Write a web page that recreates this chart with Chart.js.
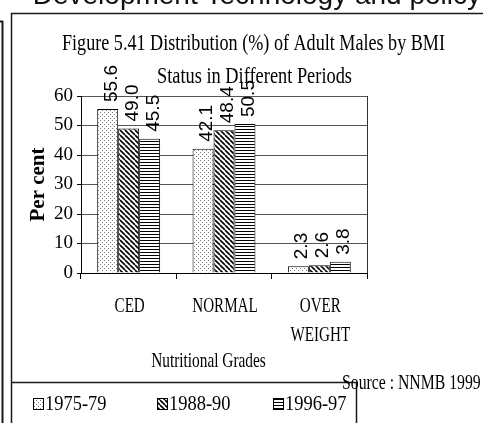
<!DOCTYPE html>
<html>
<head>
<meta charset="utf-8">
<script src="https://cdn.jsdelivr.net/npm/chart.js@4.4.0/dist/chart.umd.min.js"></script>
<style>
    html, body { margin: 0; padding: 0; background: #fff; }
    canvas { display: block; }
</style>
</head>
<body>
<canvas id="bmiChart" width="483" height="423"></canvas>
<script>
// data
const categories = [["CED"], ["NORMAL"], ["OVER", "WEIGHT"]];
const periods = ["1975-79", "1988-90", "1996-97"];
const values1975 = [55.6, 42.1, 2.3];
const values1988 = [49.0, 48.4, 2.6];
const values1996 = [45.5, 50.5, 3.8];
const yTicks = [0, 10, 20, 30, 40, 50, 60];

const titleLines = ["Figure 5.41 Distribution (%) of Adult Males by BMI", "Status in Different Periods"];
const yAxisTitle = "Per cent";
const xAxisTitle = "Nutritional Grades";
const sourceNote = "Source : NNMB 1999";
const pageHeading = "Development Technology and policy";

const SERIF = "'Liberation Serif', 'Times New Roman', serif";
const SANS = "'Liberation Sans', Arial, sans-serif";

const canvas = document.getElementById("bmiChart");
const ctx = canvas.getContext("2d");

function makePattern(kind) {
    const c = document.createElement("canvas");
    const p = c.getContext("2d");
    if (kind === "dots") {
        c.width = 4; c.height = 4;
        p.fillStyle = "#fff"; p.fillRect(0, 0, 4, 4);
        p.fillStyle = "#7a7a7a";
        p.fillRect(0, 0, 1, 1);
        p.fillRect(2, 2, 1, 1);
    } else if (kind === "diag") {
        c.width = 5; c.height = 5;
        p.fillStyle = "#fff"; p.fillRect(0, 0, 5, 5);
        p.strokeStyle = "#000"; p.lineWidth = 1.6;
        p.beginPath();
        for (let k = -1; k <= 1; k++) {
            p.moveTo(k * 5, 0);
            p.lineTo(k * 5 + 5, 5);
        }
        p.stroke();
    } else {
        c.width = 4; c.height = 3;
        p.fillStyle = "#fff"; p.fillRect(0, 0, 4, 3);
        p.fillStyle = "#000"; p.fillRect(0, 0, 4, 1);
    }
    return ctx.createPattern(c, "repeat");
}

const fills = [makePattern("dots"), makePattern("diag"), makePattern("lines")];

// squeezed text, the scan prints the serif labels very narrow
function drawSqueezed(c, text, x, y, sx, align) {
    c.save();
    c.translate(x, y);
    c.scale(sx, 1);
    c.textAlign = align || "center";
    c.fillText(text, 0, 0);
    c.restore();
}

const fitTo = (c, text, width) => width / c.measureText(text).width;

const pagePlugin = {
    id: "page",
    beforeDraw(chart) {
        const c = chart.ctx;
        c.save();
        c.fillStyle = "#fff";
        c.fillRect(0, 0, chart.width, chart.height);

        // bottom of the page heading, cut off by the crop
        c.fillStyle = "#111";
        c.font = `28px ${SANS}`;
        c.textAlign = "right";
        c.fillText(pageHeading, 481, 4);

        c.strokeStyle = "#1a1a1a";
        c.lineWidth = 1.5;
        c.beginPath();
        c.moveTo(11, 13.5); c.lineTo(483, 13.5);
        c.moveTo(11.5, 13); c.lineTo(11.5, 423);
        c.moveTo(11, 382.5); c.lineTo(356.5, 382.5);
        c.moveTo(356.5, 382); c.lineTo(356.5, 423);
        c.stroke();

        c.lineWidth = 2;
        c.beginPath();
        c.moveTo(0, 21.5); c.lineTo(3, 21.5);
        c.moveTo(2.5, 21); c.lineTo(2.5, 423);
        c.stroke();
        c.restore();
    },
    afterDatasetsDraw(chart) {
        const c = chart.ctx;
        c.save();
        c.fillStyle = "#000";
        c.font = `19px ${SANS}`;
        c.textAlign = "left";
        c.textBaseline = "alphabetic";
        chart.data.datasets.forEach((ds, i) => {
            chart.getDatasetMeta(i).data.forEach((bar, j) => {
                c.save();
                c.translate(bar.x + 9, bar.y - 7);
                c.rotate(-Math.PI / 2);
                c.fillText(ds.data[j].toFixed(1), 0, 0);
                c.restore();
            });
        });
        c.restore();
    },
    afterDraw(chart) {
        const c = chart.ctx;
        const area = chart.chartArea;
        const xScale = chart.scales.x;
        c.save();

        // right edge of the plot box
        c.strokeStyle = "#333";
        c.lineWidth = 1;
        c.beginPath();
        c.moveTo(Math.round(area.right) + 0.5, area.top);
        c.lineTo(Math.round(area.right) + 0.5, area.bottom);
        c.stroke();

        c.fillStyle = "#000";
        c.textBaseline = "alphabetic";

        c.font = `23px ${SERIF}`;
        drawSqueezed(c, titleLines[0], 253.5, 50, fitTo(c, titleLines[0], 383));
        drawSqueezed(c, titleLines[1], 254.5, 83, fitTo(c, titleLines[1], 195));

        c.font = `21px ${SERIF}`;
        categories.forEach((lines, i) => {
            const x = xScale.getPixelForValue(i) + 1;
            lines.forEach((t, k) => drawSqueezed(c, t, x, 312 + k * 29, 0.72));
        });
        drawSqueezed(c, xAxisTitle, 208.5, 367, 0.73);
        drawSqueezed(c, sourceNote, 342, 389, 0.75, "left");

        // legend
        const boxX = [33, 157, 273];
        chart.data.datasets.forEach((ds, i) => {
            c.fillStyle = ds.backgroundColor;
            c.fillRect(boxX[i], 398, 10, 11);
            c.strokeStyle = "#000";
            c.lineWidth = 1;
            c.strokeRect(boxX[i] + 0.5, 398.5, 10, 11);
            c.fillStyle = "#000";
            drawSqueezed(c, ds.label, boxX[i] + 12, 410, 0.88, "left");
        });
        c.restore();
    }
};

const seriesValues = [values1975, values1988, values1996];

new Chart(canvas, {
    type: "bar",
    data: {
        labels: categories.map(l => l.join(" ")),
        datasets: periods.map((p, i) => ({
            label: p,
            data: seriesValues[i],
            backgroundColor: fills[i],
            borderColor: "#000",
            borderWidth: 1,
            categoryPercentage: 0.66,
            barPercentage: 1.0
        }))
    },
    options: {
        responsive: false,
        animation: false,
        devicePixelRatio: 1,
        layout: { padding: { top: 96, right: 116, bottom: 0, left: 14 } },
        plugins: {
            legend: { display: false },
            title: { display: false },
            tooltip: { enabled: false }
        },
        scales: {
            x: {
                afterFit: s => { s.height = 150; },
                ticks: { display: false },
                grid: { display: true, drawOnChartArea: false, offset: true, tickLength: 6, color: "#000", tickColor: "#000" },
                border: { display: true, color: "#000", width: 1 }
            },
            y: {
                afterFit: s => { s.width = 67; },
                min: yTicks[0],
                max: yTicks[yTicks.length - 1],
                ticks: {
                    stepSize: yTicks[1] - yTicks[0],
                    color: "#000",
                    padding: 4,
                    font: { family: SERIF, size: 19 }
                },
                grid: { color: "#555", tickColor: "#000", tickLength: 4, lineWidth: 1 },
                border: { display: true, color: "#000", width: 1 },
                title: {
                    display: true,
                    text: yAxisTitle,
                    color: "#000",
                    font: { family: SERIF, size: 21, weight: "bold" },
                    padding: { top: 12, bottom: 0 }
                }
            }
        }
    },
    plugins: [pagePlugin]
});
</script>
</body>
</html>
